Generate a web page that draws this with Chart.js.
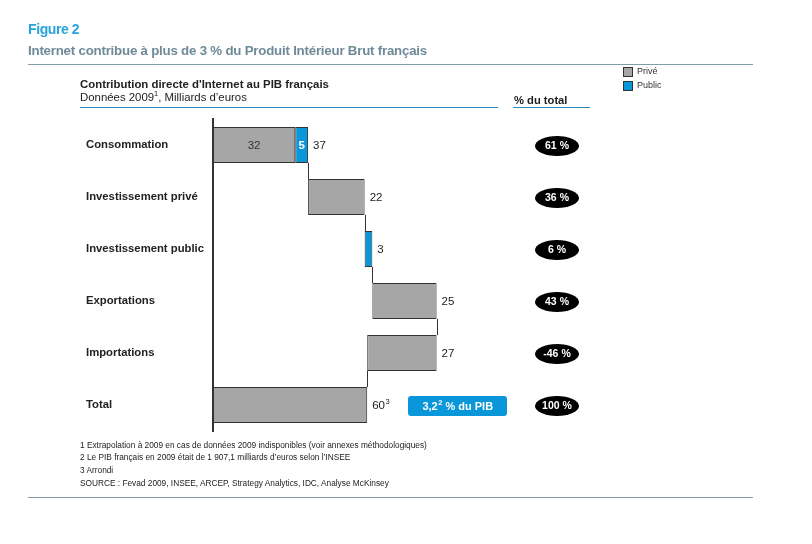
<!DOCTYPE html>
<html lang="fr">
<head>
<meta charset="utf-8">
<title>Figure 2</title>
<script src="https://cdn.jsdelivr.net/npm/chart.js@4.4.0/dist/chart.umd.min.js"></script>
<style>
  body { margin: 0; background: #fff; font-family: 'Liberation Sans', Arial, sans-serif; color: #222; }
  #page { position: relative; width: 812px; height: 544px; overflow: hidden; }
  #chartBox { position: absolute; left: 0; top: 0; width: 812px; height: 544px; }
  .txt { position: absolute; white-space: nowrap; }
  .rule { position: absolute; height: 1px; }
  .note { font-size: 8.3px; }
  sup { font-size: 65%; line-height: 0; }
</style>
</head>
<body>
<div id="page">
  <div id="chartBox"><canvas id="chart_waterfall"></canvas></div>

  <div class="txt" style="left:28px;top:21px;font-size:14px;font-weight:bold;color:#27a4dc;letter-spacing:-0.4px;">Figure 2</div>
  <div class="txt" style="left:28px;top:43px;font-size:13.3px;font-weight:bold;color:#6f8a99;letter-spacing:-0.22px;">Internet contribue à plus de 3 % du Produit Intérieur Brut français</div>
  <div class="rule" style="left:28px;top:64px;width:725px;background:#7f9dae;"></div>

  <div class="txt" style="left:80px;top:78px;font-size:11.4px;font-weight:bold;">Contribution directe d'Internet au PIB français</div>
  <div class="txt" style="left:80px;top:91px;font-size:11.4px;">Données 2009<sup>1</sup>, Milliards d’euros</div>
  <div class="rule" style="left:80px;top:107px;width:418px;background:#2a8fb8;"></div>

  <div class="txt" style="left:514px;top:94px;font-size:11.2px;font-weight:bold;">% du total</div>
  <div class="rule" style="left:513px;top:107px;width:77px;background:#2a8fb8;"></div>

  <div class="txt note" style="left:80px;top:440px;">1 Extrapolation à 2009 en cas de données 2009 indisponibles (voir annexes méthodologiques)</div>
  <div class="txt note" style="left:80px;top:452px;">2 Le PIB français en 2009 était de 1 907,1 milliards d’euros selon l’INSEE</div>
  <div class="txt note" style="left:80px;top:465px;">3 Arrondi</div>
  <div class="txt note" style="left:80px;top:478px;">SOURCE : Fevad 2009, INSEE, ARCEP, Strategy Analytics, IDC, Analyse McKinsey</div>
  <div class="rule" style="left:28px;top:497px;width:725px;background:#7f9dae;"></div>
</div>

<script>
const categories = ['Consommation', 'Investissement privé', 'Investissement public', 'Exportations', 'Importations', 'Total'];
const priveValues = [32, 22, 0, 25, -27, 60];
const publicValues = [5, 0, 3, 0, 0, 0];
const isTotal = [false, false, false, false, false, true];
const shares = ['61 %', '36 %', '6 %', '43 %', '-46 %', '100 %'];
const pibNote = '3,2';

const colors = {
    prive: '#a6a6a6',
    public: '#0a97d9',
    edge: '#333333'
};

// running totals -> floating bar ranges
const priveRanges = [];
const publicRanges = [];
const runningEnd = [];
let running = 0;
for (let i = 0; i < categories.length; i++) {
    if (isTotal[i]) {
        priveRanges.push([0, priveValues[i]]);
        publicRanges.push(null);
        running = priveValues[i];
    } else {
        priveRanges.push(priveValues[i] !== 0 ? [running, running + priveValues[i]] : null);
        running += priveValues[i];
        publicRanges.push(publicValues[i] !== 0 ? [running, running + publicValues[i]] : null);
        running += publicValues[i];
    }
    runningEnd.push(running);
}

const font = "'Liberation Sans', Arial, sans-serif";
Chart.defaults.font.family = font;

function ellipse(ctx, cx, cy, rx, ry) {
    ctx.beginPath();
    ctx.ellipse(cx, cy, rx, ry, 0, 0, Math.PI * 2);
    ctx.fill();
}

const waterfallExtras = {
    id: 'waterfallExtras',
    beforeDatasetsDraw(chart) {
        // thin connectors between consecutive bars
        const {ctx, scales: {x, y}} = chart;
        const h = chart.getDatasetMeta(0).data[0].height;
        ctx.save();
        ctx.strokeStyle = colors.edge;
        ctx.lineWidth = 1;
        for (let i = 0; i < categories.length - 1; i++) {
            const px = Math.round(x.getPixelForValue(runningEnd[i])) + 0.5;
            ctx.beginPath();
            ctx.moveTo(px, y.getPixelForValue(i) + h / 2);
            ctx.lineTo(px, y.getPixelForValue(i + 1) - h / 2);
            ctx.stroke();
        }
        ctx.restore();
    },
    afterDatasetsDraw(chart) {
        const {ctx, scales: {x, y}} = chart;
        const priveMeta = chart.getDatasetMeta(0);
        const publicMeta = chart.getDatasetMeta(1);
        ctx.save();
        ctx.textBaseline = 'middle';

        for (let i = 0; i < categories.length; i++) {
            const cy = y.getPixelForValue(i);
            let right = -Infinity;
            [priveRanges[i], publicRanges[i]].forEach(r => {
                if (r) right = Math.max(right, x.getPixelForValue(r[0]), x.getPixelForValue(r[1]));
            });

            // segment labels when a row has both parts
            if (priveRanges[i] && publicRanges[i]) {
                const a = priveMeta.data[i], b = publicMeta.data[i];
                ctx.textAlign = 'center';
                ctx.font = '11.5px ' + font;
                ctx.fillStyle = '#333';
                ctx.fillText(String(priveValues[i]), (a.x + a.base) / 2, cy + 1);
                ctx.font = 'bold 11.5px ' + font;
                ctx.fillStyle = '#fff';
                ctx.fillText(String(publicValues[i]), (b.x + b.base) / 2, cy + 1);
            }

            // value at the end of the bar
            const total = Math.abs(priveValues[i] + publicValues[i]);
            ctx.textAlign = 'left';
            ctx.font = '11.5px ' + font;
            ctx.fillStyle = '#222';
            ctx.fillText(String(total), right + 5, cy + 1);
            if (isTotal[i]) {
                const w = ctx.measureText(String(total)).width;
                ctx.font = '7.5px ' + font;
                ctx.fillText('3', right + 5 + w + 0.5, cy - 3);
            }

            // share of total
            ctx.fillStyle = '#000';
            ellipse(ctx, 557, cy + 1, 22, 10);
            ctx.fillStyle = '#fff';
            ctx.textAlign = 'center';
            ctx.font = 'bold 10.5px ' + font;
            ctx.fillText(shares[i], 557, cy + 1.5);
        }

        // "% du PIB" box on total row
        const ty = y.getPixelForValue(categories.length - 1);
        ctx.fillStyle = colors.public;
        ctx.beginPath();
        ctx.roundRect(408, ty - 9, 99, 20, 3);
        ctx.fill();
        ctx.fillStyle = '#fff';
        ctx.textAlign = 'left';
        const p1 = pibNote, p3 = ' % du PIB';
        ctx.font = 'bold 11px ' + font;
        const w1 = ctx.measureText(p1).width;
        const w3 = ctx.measureText(p3).width;
        ctx.font = 'bold 7.5px ' + font;
        const w2 = ctx.measureText('2').width;
        const sx = 457.5 - (w1 + w2 + w3) / 2;
        ctx.font = 'bold 11px ' + font;
        ctx.fillText(p1, sx, ty + 1.5);
        ctx.font = 'bold 7.5px ' + font;
        ctx.fillText('2', sx + w1 + 0.5, ty - 2.5);
        ctx.font = 'bold 11px ' + font;
        ctx.fillText(p3, sx + w1 + w2 + 0.5, ty + 1.5);

        // legend, top right
        chart.data.datasets.forEach((ds, k) => {
            const ly = 67 + k * 14;
            ctx.fillStyle = ds.backgroundColor;
            ctx.fillRect(623, ly, 10, 10);
            ctx.strokeStyle = colors.edge;
            ctx.lineWidth = 1;
            ctx.strokeRect(623.5, ly + 0.5, 9, 9);
            ctx.fillStyle = '#333';
            ctx.textAlign = 'left';
            ctx.font = '9px ' + font;
            ctx.fillText(ds.label, 637, ly + 5);
        });
        ctx.restore();
    }
};

new Chart(document.getElementById('chart_waterfall'), {
    type: 'bar',
    data: {
        labels: categories,
        datasets: [{
            label: 'Privé',
            data: priveRanges,
            backgroundColor: colors.prive,
            borderColor: colors.edge,
            borderWidth: 1,
            borderSkipped: false,
            grouped: false,
            barPercentage: 0.69,
            categoryPercentage: 1
        }, {
            label: 'Public',
            data: publicRanges,
            backgroundColor: colors.public,
            borderColor: colors.edge,
            borderWidth: 1,
            borderSkipped: false,
            grouped: false,
            barPercentage: 0.69,
            categoryPercentage: 1
        }]
    },
    plugins: [waterfallExtras],
    options: {
        indexAxis: 'y',
        responsive: true,
        maintainAspectRatio: false,
        animation: false,
        layout: {
            padding: {left: 86, right: 342, top: 119, bottom: 113}
        },
        scales: {
            x: {
                display: false,
                min: 0,
                max: 100
            },
            y: {
                afterFit: (scale) => { scale.width = 127; },
                grid: {display: false},
                border: {display: true, color: '#333', width: 2},
                ticks: {
                    crossAlign: 'far',
                    padding: 0,
                    color: '#222',
                    font: {size: 11.3, weight: 'bold'}
                }
            }
        },
        plugins: {
            legend: {display: false},
            tooltip: {enabled: false}
        }
    }
});
</script>
</body>
</html>
